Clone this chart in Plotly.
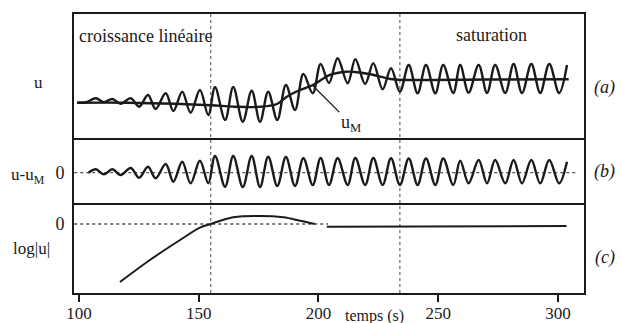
import plotly.graph_objects as go

# ---- data (time in s, arbitrary amplitude units) ----
# panel (a): extrema of u(t)
u_t = [99.2, 103.0, 107.0, 110.4, 113.9, 117.4, 121.6, 125.1, 128.8, 132.0, 136.2, 139.4,
       143.1, 146.6, 150.5, 154.0, 156.8, 161.0, 164.4, 168.4, 172.1, 175.6, 179.0, 182.8,
       186.4, 190.2, 193.7, 197.6, 200.9, 204.4, 208.0, 212.2, 215.4, 219.5, 222.9, 226.8,
       230.3, 234.0, 237.7, 241.4, 244.9, 248.8, 252.1, 256.3, 259.2, 262.7, 266.9, 270.4,
       273.8, 278.0, 281.5, 285.0, 288.9, 292.6, 296.4, 300.5, 303.8]
u_v = [0.0, 0.05, 0.44, 0.04, 0.37, -0.1, 0.44, -0.40, 0.77, -0.63, 0.94, -0.83,
       1.10, -1.00, 1.27, -1.23, 1.54, -1.73, 1.57, -1.90, 1.20, -1.90, 1.10, -1.73,
       1.77, -0.73, 2.87, 0.94, 3.87, 1.97, 4.44, 1.94, 4.34, 1.87, 3.94, 1.34,
       3.44, 1.10, 3.77, 0.94, 3.77, 0.94, 3.77, 0.97, 3.77, 1.00, 3.77, 0.97,
       3.77, 0.97, 3.87, 0.97, 3.87, 0.97, 3.87, 0.97, 3.77]
# panel (a): mean u_M(t)
um_t = [99.2, 120.0, 140.0, 155.0, 165.0, 175.0, 182.7, 186.8, 192.3, 197.7, 204.8,
        211.5, 215.2, 221.1, 231.1, 238.2, 270.0, 304.5]
um_v = [0.0, 0.0, -0.1, -0.25, -0.4, -0.42, -0.13, 0.6, 1.27, 1.77, 2.77,
        3.1, 3.07, 2.87, 2.34, 2.27, 2.32, 2.34]
# panel (b): extrema of u - u_M
d_t = [104.0, 107.0, 110.4, 113.9, 117.4, 121.6, 125.1, 128.8, 132.0, 136.2, 139.4,
       143.1, 146.6, 150.5, 154.0, 156.8, 161.0, 164.4, 168.4, 172.1, 175.6, 179.0,
       182.8, 186.4, 190.2, 193.7, 197.6, 200.9, 204.4, 208.0, 212.2, 215.4, 219.5,
       222.9, 226.8, 230.3, 234.0, 237.7, 241.4, 244.9, 248.8, 252.1, 256.3, 259.2,
       262.7, 266.9, 270.4, 273.8, 278.0, 281.5, 285.0, 288.9, 292.6, 296.4, 300.5, 303.8]
d_v = [0.0, 0.34, -0.16, 0.34, -0.23, 0.47, -0.50, 0.60, -0.56, 0.87, -0.90,
       1.10, -1.06, 1.20, -1.06, 1.67, -1.40, 1.67, -1.43, 1.67, -1.43, 1.60,
       -1.33, 1.57, -1.33, 1.44, -1.23, 1.47, -1.23, 1.44, -1.23, 1.47, -1.23,
       1.47, -1.23, 1.44, -1.23, 1.42, -1.23, 1.42, -1.23, 1.42, -1.23, 1.20,
       -1.06, 1.27, -1.06, 1.27, -1.06, 1.27, -1.06, 1.27, -1.06, 1.27, -1.06, 1.10]
# panel (c): log|u|
lg1_t = [117.1, 129.6, 142.2, 150.5, 155.0, 164.4, 175.6, 185.3, 192.3, 198.5]
lg1_v = [-5.8, -3.6, -1.6, -0.37, 0.0, 0.67, 0.8, 0.67, 0.33, 0.0]
lg2_t = [203.5, 233.5, 234.5, 303.6]
lg2_v = [-0.27, -0.27, -0.2, -0.2]

phase_bounds = [155, 234]
x_ticks = [100, 150, 200, 250, 300]

FONT = "Liberation Serif"
BLK = "#1a1a1a"

fig = go.Figure()
line = dict(color=BLK, width=2.4, shape="spline", smoothing=1.0)
fig.add_trace(go.Scatter(x=u_t, y=u_v, mode="lines", line=line, xaxis="x", yaxis="y"))
fig.add_trace(go.Scatter(x=um_t, y=um_v, mode="lines", line=line, xaxis="x", yaxis="y"))
fig.add_trace(go.Scatter(x=[98, 308], y=[0, 0], mode="lines",
                         line=dict(color="#555", width=1.3, dash="dot"), xaxis="x2", yaxis="y2"))
fig.add_trace(go.Scatter(x=d_t, y=d_v, mode="lines", line=line, xaxis="x2", yaxis="y2"))
fig.add_trace(go.Scatter(x=[98, 204], y=[0, 0], mode="lines",
                         line=dict(color="#555", width=1.3, dash="dot"), xaxis="x3", yaxis="y3"))
fig.add_trace(go.Scatter(x=lg1_t, y=lg1_v, mode="lines", line=dict(color=BLK, width=2, shape="spline"),
                         xaxis="x3", yaxis="y3"))
fig.add_trace(go.Scatter(x=lg2_t, y=lg2_v, mode="lines", line=dict(color=BLK, width=2),
                         xaxis="x3", yaxis="y3"))

for xb in phase_bounds:
    fig.add_shape(type="line", xref="x3", yref="paper", x0=xb, x1=xb, y0=0, y1=1,
                  line=dict(color="#666", width=1.2, dash="dot"), layer="below")

frame = dict(showline=True, mirror=True, linecolor=BLK, linewidth=2, showgrid=False,
             zeroline=False, automargin=False)
xr = [97.9, 310.9]
fig.update_layout(
    width=621, height=323, margin=dict(l=74, r=37, t=14, b=30, autoexpand=False),
    paper_bgcolor="white", plot_bgcolor="white", showlegend=False,
    font=dict(family=FONT, size=18, color=BLK),
    xaxis=dict(frame, anchor="y", range=xr, showticklabels=False, ticks=""),
    xaxis2=dict(frame, anchor="y2", range=xr, showticklabels=False, ticks="", showline=False),
    xaxis3=dict(frame, anchor="y3", range=xr, tickvals=x_ticks, ticks="outside",
                ticklen=7, tickwidth=2, tickcolor=BLK, tickfont=dict(size=17),
                ticklabelstandoff=-3),
    yaxis=dict(frame, domain=[0.5556, 1], anchor="x", range=[-3.53, 8.87], showticklabels=False, ticks=""),
    yaxis2=dict(frame, domain=[0.3154, 0.5556], anchor="x2", range=[-3.23, 3.47],
                tickvals=[0], ticktext=["0"], ticks="", ticklabelstandoff=4),
    yaxis3=dict(frame, domain=[0, 0.3154], anchor="x3", range=[-6.9, 1.9],
                tickvals=[0], ticktext=["0"], ticks="", ticklabelstandoff=4),
)

ann = []
ann.append(dict(text="croissance linéaire", xref="x", yref="y", x=99.2, y=6.67,
                xanchor="left", yanchor="middle", showarrow=False))
ann.append(dict(text="saturation", xref="x", yref="y", x=272.4, y=6.77,
                xanchor="center", yanchor="middle", showarrow=False))
ann.append(dict(text="u<sub>M</sub>", xref="x", yref="y", x=197.7, y=1.7,
                ax=213.5, ay=-2.1, axref="x", ayref="y", showarrow=True,
                arrowhead=0, arrowwidth=1.3, arrowcolor=BLK, standoff=0))
# left labels
ann.append(dict(text="u", xref="paper", yref="paper", x=-0.069, y=0.756,
                xanchor="center", yanchor="middle", showarrow=False, font=dict(size=17)))
ann.append(dict(text="u-u<sub>M</sub>", xref="paper", yref="paper", x=-0.09, y=0.42,
                xanchor="center", yanchor="middle", showarrow=False, font=dict(size=17)))
ann.append(dict(text="log|u|", xref="paper", yref="paper", x=-0.083, y=0.161,
                xanchor="center", yanchor="middle", showarrow=False, font=dict(size=17)))
# right labels
for lab, yy in [("(a)", 0.735), ("(b)", 0.434), ("(c)", 0.129)]:
    ann.append(dict(text="<i>" + lab + "</i>", xref="paper", yref="paper", x=1.041, y=yy,
                    xanchor="center", yanchor="middle", showarrow=False))
ann.append(dict(text="temps (s)", xref="paper", yref="paper", x=0.59, y=-0.083,
                xanchor="center", yanchor="middle", showarrow=False, font=dict(size=16)))
fig.update_layout(annotations=ann)

fig.write_html("out.html")
